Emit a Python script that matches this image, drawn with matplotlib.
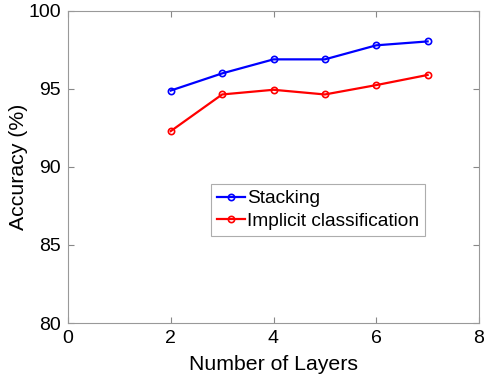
import matplotlib
matplotlib.use("Agg")
import matplotlib.pyplot as plt

layers = [2, 3, 4, 5, 6, 7]
stacking = [94.9, 96.0, 96.9, 96.9, 97.8, 98.05]
implicit = [92.3, 94.65, 94.95, 94.65, 95.25, 95.9]

plt.rcParams['font.family'] = ['Liberation Sans', 'DejaVu Sans']

fig = plt.figure(figsize=(4.84, 3.81), dpi=100)
ax = fig.add_axes([68/484, 1-323/381, 411/484, 312/381])

ax.plot(layers, stacking, color='#0000ff', lw=1.6, marker='o', ms=4.5,
        mfc='none', mew=1.2, label='Stacking')
ax.plot(layers, implicit, color='#ff0000', lw=1.6, marker='o', ms=4.5,
        mfc='none', mew=1.2, label='Implicit classification')

ax.set_xlim(0, 8)
ax.set_ylim(80, 100)
ax.set_xticks([0, 2, 4, 6, 8])
ax.set_yticks([80, 85, 90, 95, 100])
ax.tick_params(direction='in', top=True, right=True, labelsize=14,
               color='#888888', length=4, width=0.8, pad=5)
for s in ax.spines.values():
    s.set_color('#999999')
    s.set_linewidth(0.8)

ax.set_xlabel('Number of Layers', fontsize=15.3, labelpad=6)
ax.set_ylabel('Accuracy (%)', fontsize=15.3, labelpad=0)

leg = ax.legend(loc='upper left', bbox_to_anchor=(0.348, 0.445),
                fontsize=13.8, frameon=True, fancybox=False,
                edgecolor='#999999', handlelength=1.45, handletextpad=0.15,
                borderpad=0.3, labelspacing=0.28, borderaxespad=0)
leg.get_frame().set_linewidth(0.8)

fig.savefig('out.png', dpi=100)
